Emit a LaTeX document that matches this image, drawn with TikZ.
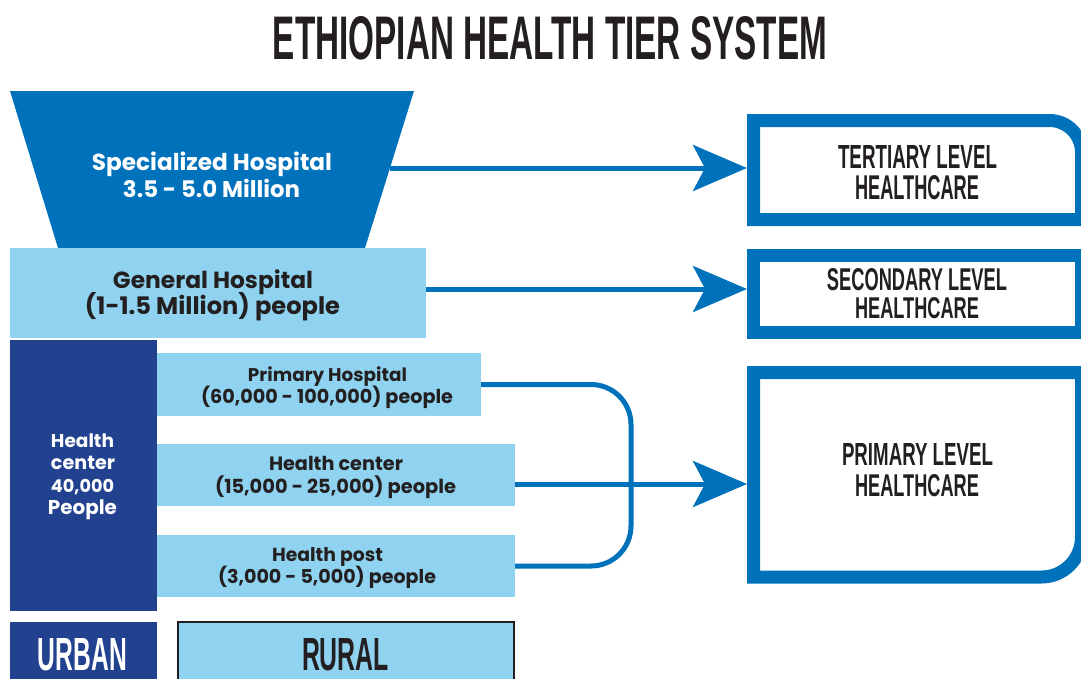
\documentclass[tikz,border=0pt]{standalone}
\usepackage{fontspec}
\setmainfont{Poppins}
\newfontfamily\condf{Liberation Sans}
\usetikzlibrary{arrows.meta,calc}
\definecolor{tblue}{HTML}{0072BC}
\definecolor{lblue}{HTML}{8FD3F0}
\definecolor{navy}{HTML}{22418F}
\definecolor{ink}{HTML}{231F20}
\newcommand{\fw}[2]{\resizebox{#1pt}{!}{\bfseries #2}}
\newcommand{\fc}[3]{\resizebox{#1pt}{#2pt}{\condf\bfseries #3}}
\begin{document}
\begin{tikzpicture}[x=1pt,y=-1pt,
  blk/.style={inner sep=0pt,outer sep=0pt,draw=none},
  lbl/.style={inner sep=0pt,outer sep=0pt,anchor=base},
  arr/.style={draw=tblue,line width=5pt,-{Stealth[length=54pt,width=46pt,inset=12pt]}},
  conn/.style={draw=tblue,line width=5pt},
  bord/.style={draw=tblue,line width=13pt,line join=miter}]
\useasboundingbox (0,0) rectangle (1081,678);
\clip (0,0) rectangle (1081,678);
\fill[white] (0,0) rectangle (1081,678);

% title
\node[lbl,text=ink] (title) at (550,59) {\fc{554}{43}{ETHIOPIAN HEALTH TIER SYSTEM}};

% specialized hospital trapezoid
\fill[tblue] (10,91) -- (414,91) -- (365,248) -- (58,248) -- cycle;
\coordinate (specR) at (390,168);
\node[lbl,text=white] (spec1) at (212,170) {\fw{240}{Specialized Hospital}};
\node[lbl,text=white] (spec2) at (211.5,197) {\fw{177}{3.5 - 5.0 Million}};

% general hospital
\node[blk,fill=lblue,minimum width=416pt,minimum height=90pt] (gh) at (218,293) {};
\node[lbl,text=ink] (gh1) at (213,288) {\fw{200}{General Hospital}};
\node[lbl,text=ink] (gh2) at (212.5,314) {\fw{255}{(1-1.5 Million) people}};

% urban health center column
\node[blk,fill=navy,minimum width=147pt,minimum height=271pt] (hcol) at (83.5,475.5) {};
\node[lbl,text=white] (hcol1) at (82.5,447) {\fw{63}{Health}};
\node[lbl,text=white] (hcol2) at (83,469) {\fw{64}{center}};
\node[lbl,text=white] (hcol3) at (82.5,492) {\fw{63}{40,000}};
\node[lbl,text=white] (hcol4) at (82.5,514) {\fw{69}{People}};

% rural boxes
\node[blk,fill=lblue,minimum width=324pt,minimum height=63pt] (ph) at (319,384.5) {};
\node[lbl,text=ink] (ph1) at (327.5,381) {\fw{159}{Primary Hospital}};
\node[lbl,text=ink] (ph2) at (327,403) {\fw{252}{(60,000 - 100,000) people}};

\node[blk,fill=lblue,minimum width=358pt,minimum height=62pt] (hc) at (336,475) {};
\node[lbl,text=ink] (hc1) at (336,470) {\fw{134}{Health center}};
\node[lbl,text=ink] (hc2) at (335.5,493) {\fw{241}{(15,000 - 25,000) people}};

\node[blk,fill=lblue,minimum width=358pt,minimum height=62pt] (hp) at (336,566) {};
\node[lbl,text=ink] (hp1) at (327.5,561) {\fw{111}{Health post}};
\node[lbl,text=ink] (hp2) at (327,583) {\fw{218}{(3,000 - 5,000) people}};

% urban / rural labels
\node[blk,fill=navy,minimum width=147pt,minimum height=68pt] (urban) at (83.5,656) {};
\node[lbl,text=white] (urbant) at (82.5,670) {\fc{89}{32}{URBAN}};
\node[blk,fill=lblue,draw=ink,line width=1.5pt,minimum width=336pt,minimum height=68pt] (rural) at (346,656) {};
\node[lbl,text=ink] (ruralt) at (345.5,670) {\fc{87}{32}{RURAL}};

% right boxes
\draw[bord] (753.5,219.5) -- (753.5,120.5) -- (1049.5,120.5)
  .. controls (1067.2,120.5) and (1081.5,134.8) .. (1081.5,152.5) -- (1081.5,219.5) -- cycle;
\draw[bord] (753.5,255.5) rectangle (1081.5,332);
\draw[bord] (753.5,577) -- (753.5,372.5) -- (1081.5,372.5) -- (1081.5,537)
  .. controls (1081.5,559.1) and (1063.6,577) .. (1041.5,577) -- cycle;

\node[lbl,text=ink] (tt1) at (917.5,168) {\fc{159}{23}{TERTIARY LEVEL}};
\node[lbl,text=ink] (tt2) at (917,199) {\fc{124}{24}{HEALTHCARE}};
\node[lbl,text=ink] (st1) at (917,290) {\fc{180}{22}{SECONDARY LEVEL}};
\node[lbl,text=ink] (st2) at (917,318) {\fc{124}{21}{HEALTHCARE}};
\node[lbl,text=ink] (pt1) at (917.5,465) {\fc{151}{22}{PRIMARY LEVEL}};
\node[lbl,text=ink] (pt2) at (917,496) {\fc{124}{22}{HEALTHCARE}};

\coordinate (tbW) at (747,168);
\coordinate (sbW) at (747,289);
\coordinate (plW) at (747,484);

% connectors
\draw[conn,rounded corners=40pt] (ph.east) -- (631,384.5) -- (631,566) -- (hp.east);
\draw[arr] (specR) -- (tbW);
\draw[arr] (gh.east |- sbW) -- (sbW);
\draw[arr] (hc.east |- plW) -- (plW);
\end{tikzpicture}
\end{document}
